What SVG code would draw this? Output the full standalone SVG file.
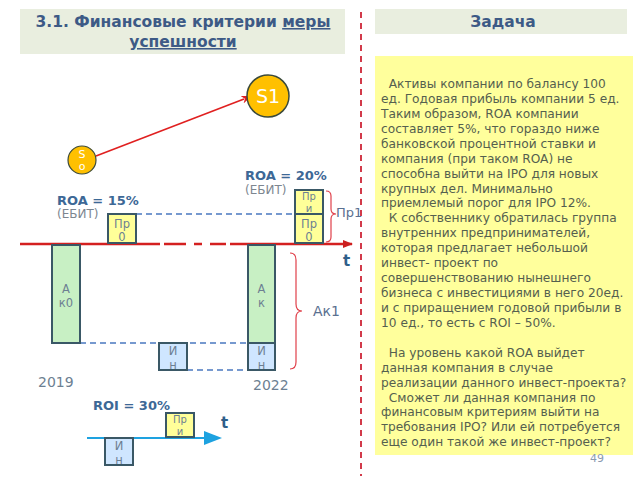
<svg xmlns="http://www.w3.org/2000/svg" width="640" height="480" viewBox="0 0 640 480">
<defs>
<style>
text{font-family:"DejaVu Sans","Liberation Sans",sans-serif}
.hdr{fill:#e9eedf}
.ttl{font-weight:bold;font-size:15.5px;fill:#3d5a86}
.body{font-size:12.2px;fill:#55604f}
.box{stroke:#3a5866;stroke-width:2}
.g{fill:#c8f0c4}
.y{fill:#ffff99}
.b{fill:#cfe6ff}
.bt{font-size:11.5px;fill:#6d7f92;text-anchor:middle}
.bs{font-size:10px;fill:#6d7f92;text-anchor:middle}
.roa{font-weight:bold;font-size:13px;fill:#3d6896}
.ebit{font-size:12px;fill:#7d8690}
.yr{font-size:14px;fill:#6d7f92}
.brace{fill:none;stroke:#e0404a;stroke-width:1.2}
.bd{stroke:#4a78c0;stroke-width:1.5;stroke-dasharray:6 4;fill:none}
.t{font-weight:bold;font-size:15px;fill:#2f5f8a}
</style>
<marker id="ar" markerWidth="10" markerHeight="8" refX="9" refY="4" orient="auto" markerUnits="userSpaceOnUse">
<path d="M0,0 L10,4 L0,8 Z" fill="#cc1f1f"/>
</marker>
<marker id="ar2" markerWidth="12" markerHeight="10" refX="2" refY="4" orient="auto" markerUnits="userSpaceOnUse">
<path d="M0,0 L10,4 L0,8 L3,4 Z" fill="#e02020"/>
</marker>
</defs>
<rect width="640" height="480" fill="#ffffff"/>
<g id="title">
<rect class="hdr" x="20" y="9" width="325" height="45"/>
<text class="ttl" x="183" y="27" text-anchor="middle">3.1. Финансовые критерии <tspan text-decoration="underline">меры</tspan></text>
<text class="ttl" x="183" y="47" text-anchor="middle" text-decoration="underline">успешности</text>
</g>
<line x1="361" y1="12" x2="361" y2="476" stroke="#d23a4a" stroke-width="2" stroke-dasharray="6 5"/>
<g id="task-header">
<rect class="hdr" x="375" y="9" width="252" height="25"/>
<text class="ttl" x="503" y="27" text-anchor="middle">Задача</text>
</g>
<g id="task">
<rect x="375" y="56" width="258" height="399" fill="#ffff9c"/>
<text class="body" x="381" y="88" xml:space="preserve">  Активы компании по балансу 100</text>
<text class="body" x="381" y="103">ед. Годовая прибыль компании 5 ед.</text>
<text class="body" x="381" y="118">Таким образом, ROA компании</text>
<text class="body" x="381" y="133">составляет 5%, что гораздо ниже</text>
<text class="body" x="381" y="148">банковской процентной ставки и</text>
<text class="body" x="381" y="163">компания (при таком ROA) не</text>
<text class="body" x="381" y="178">способна выйти на IPO для новых</text>
<text class="body" x="381" y="193">крупных дел. Минимально</text>
<text class="body" x="381" y="207">приемлемый порог для IPO 12%.</text>
<text class="body" x="381" y="222" xml:space="preserve">  К собственнику обратилась группа</text>
<text class="body" x="381" y="237">внутренних предпринимателей,</text>
<text class="body" x="381" y="252">которая предлагает небольшой</text>
<text class="body" x="381" y="267">инвест- проект по</text>
<text class="body" x="381" y="282">совершенствованию нынешнего</text>
<text class="body" x="381" y="297">бизнеса с инвестициями в него 20ед.</text>
<text class="body" x="381" y="312">и с приращением годовой прибыли в</text>
<text class="body" x="381" y="327">10 ед., то есть с ROI – 50%.</text>
<text class="body" x="381" y="357" xml:space="preserve">  На уровень какой ROA выйдет</text>
<text class="body" x="381" y="372">данная компания в случае</text>
<text class="body" x="381" y="387">реализации данного инвест-проекта?</text>
<text class="body" x="381" y="402" xml:space="preserve">  Сможет ли данная компания по</text>
<text class="body" x="381" y="416">финансовым критериям выйти на</text>
<text class="body" x="381" y="431">требования IPO? Или ей потребуется</text>
<text class="body" x="381" y="446">еще один такой же инвест-проект?</text>
</g>
<text x="597" y="462" font-size="11" fill="#8a9ab0" text-anchor="middle" font-family="DejaVu Sans, sans-serif">49</text>
<g id="connectors">
<line x1="96" y1="156" x2="244" y2="99" stroke="#e02020" stroke-width="1.6" marker-end="url(#ar2)"/>
<line x1="80" y1="343" x2="248" y2="343" class="bd"/>
<line x1="187" y1="370" x2="248" y2="370" class="bd"/>
<line x1="136" y1="214" x2="295" y2="214" class="bd"/>
<line x1="20" y1="244" x2="160" y2="244" stroke="#d42020" stroke-width="2.5"/>
<line x1="164" y1="244" x2="226" y2="244" stroke="#d42020" stroke-width="2.5" stroke-dasharray="22 8 8 8"/>
<line x1="230" y1="244" x2="352" y2="244" stroke="#d42020" stroke-width="2.5" marker-end="url(#ar)"/>
<line x1="87" y1="438" x2="206" y2="438" stroke="#1ea2e0" stroke-width="2"/>
<path d="M204,431 L222,438 L204,445 Z" fill="#1ea2e0"/>
<path class="brace" d="M326,191 Q331,191 331,196 L331,209 Q331,214 336,214 Q331,214 331,219 L331,237 Q331,242 326,242"/>
<path class="brace" d="M290,253 Q296,253 296,260 L296,304 Q296,311 302,311 Q296,311 296,318 L296,362 Q296,369 290,369"/>
</g>
<g id="S1">
<circle cx="268" cy="96" r="21" fill="#ffc000" stroke="#3b4a3b" stroke-width="1.5"/>
<text x="268" y="103" font-size="19" fill="#ffffff" text-anchor="middle">S1</text>
</g>
<g id="S0">
<circle cx="82" cy="160" r="14" fill="#ffc000" stroke="#3b4a3b" stroke-width="1.2"/>
<text x="82" y="158" font-size="11" fill="#ffffff" text-anchor="middle">S</text>
<text x="82" y="170" font-size="11" fill="#ffffff" text-anchor="middle">o</text>
</g>
<g id="roa15">
<text class="roa" x="57" y="205">ROA = 15%</text>
<text class="ebit" x="57" y="218">(ЕБИТ)</text>
</g>
<g id="roa20">
<text class="roa" x="245" y="180">ROA = 20%</text>
<text class="ebit" x="245" y="194">(ЕБИТ)</text>
</g>
<g id="pr0-left">
<rect class="box y" x="108" y="214" width="28" height="29"/>
<text class="bt" x="122" y="228">Пр</text>
<text class="bt" x="122" y="241">0</text>
</g>
<g id="pri-right">
<rect class="box y" x="295" y="190" width="28" height="24"/>
<text class="bs" x="309" y="200">Пр</text>
<text class="bs" x="309" y="212">и</text>
</g>
<g id="pr0-right">
<rect class="box y" x="295" y="214" width="28" height="29"/>
<text class="bt" x="309" y="228">Пр</text>
<text class="bt" x="309" y="241">0</text>
</g>
<text x="336" y="217" font-size="13" fill="#5a7090">Пр1</text>
<g id="ak0">
<rect class="box g" x="52" y="245" width="28" height="98"/>
<text class="bt" x="66" y="293">А</text>
<text class="bt" x="66" y="307">к0</text>
</g>
<g id="ak">
<rect class="box g" x="248" y="245" width="27" height="98"/>
<text class="bt" x="261.5" y="293">А</text>
<text class="bt" x="261.5" y="307">к</text>
</g>
<g id="in-right">
<rect class="box b" x="248" y="343" width="27" height="27"/>
<text class="bt" x="261.5" y="355">И</text>
<text class="bt" x="261.5" y="369">н</text>
</g>
<g id="in-mid">
<rect class="box b" x="159" y="343" width="28" height="27"/>
<text class="bt" x="173" y="355">И</text>
<text class="bt" x="173" y="369">н</text>
</g>
<text x="313" y="316" font-size="14" fill="#5a7090">Ак1</text>
<text class="t" x="343" y="266">t</text>
<text class="yr" x="38" y="387">2019</text>
<text class="yr" x="253" y="390">2022</text>
<g id="roi">
<text class="roa" x="93" y="410">ROI = 30%</text>
</g>
<g id="in-bottom">
<rect class="box b" x="105" y="438" width="28" height="27"/>
<text class="bt" x="119" y="450">И</text>
<text class="bt" x="119" y="464">н</text>
</g>
<g id="pri-bottom">
<rect class="box y" x="166" y="413" width="28" height="24"/>
<text class="bs" x="180" y="423">Пр</text>
<text class="bs" x="180" y="435">и</text>
</g>
<text class="t" x="221" y="428">t</text>
</svg>
